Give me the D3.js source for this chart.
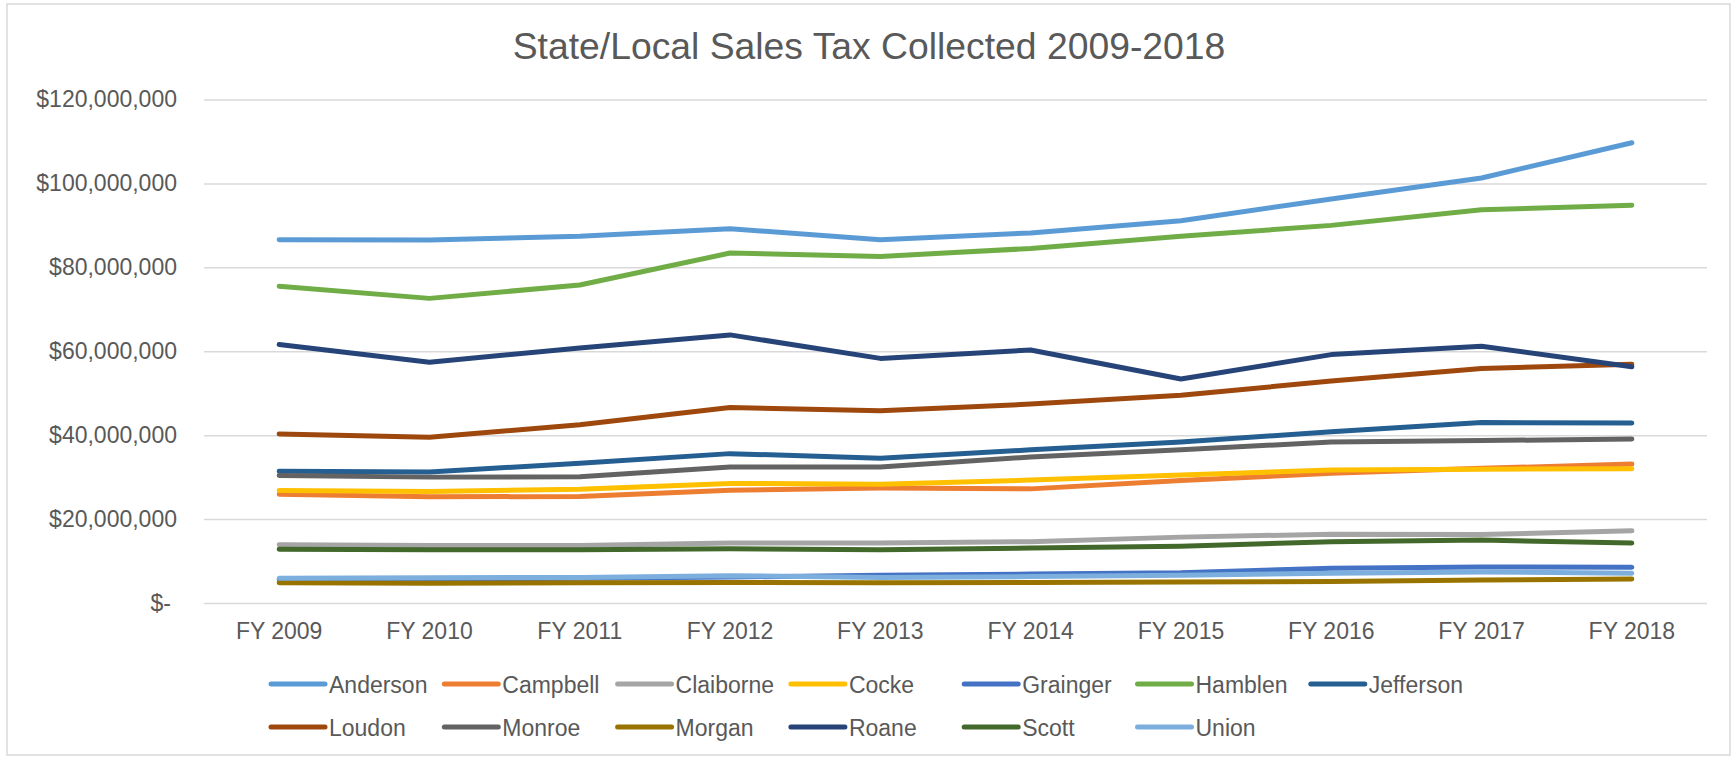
<!DOCTYPE html>
<html>
<head>
<meta charset="utf-8">
<script src="https://cdn.jsdelivr.net/npm/d3@7"></script>
<style>
  body { margin: 0; background: #fff; }
  svg { display: block; font-family: "Liberation Sans", Arial, sans-serif; }
</style>
</head>
<body>
<div id="chart"></div>
<script>
// fiscal years on x axis
var years = ["FY 2009","FY 2010","FY 2011","FY 2012","FY 2013","FY 2014","FY 2015","FY 2016","FY 2017","FY 2018"];
var yTicks = [0, 20000000, 40000000, 60000000, 80000000, 100000000, 120000000];

var counties = ["Anderson","Campbell","Claiborne","Cocke","Grainger","Hamblen","Jefferson",
                "Loudon","Monroe","Morgan","Roane","Scott","Union"];
var colors = ["#5B9BD5","#ED7D31","#A5A5A5","#FFC000","#4472C4","#70AD47","#255E91",
              "#9E480E","#636363","#997300","#264478","#43682B","#7CAFDD"];

// sales tax in millions of dollars
var anderson  = [86.6, 86.5, 87.4, 89.2, 86.6, 88.2, 91.1, 96.3, 101.3, 109.7];
var campbell  = [25.9, 25.3, 25.4, 26.9, 27.4, 27.2, 29.2, 30.9, 32.1, 33.1];
var claiborne = [13.9, 13.7, 13.7, 14.3, 14.3, 14.6, 15.7, 16.4, 16.3, 17.2];
var cocke     = [26.8, 26.6, 27.1, 28.5, 28.3, 29.3, 30.5, 31.7, 31.9, 32.0];
var grainger  = [5.6, 5.7, 5.9, 6.2, 6.6, 6.9, 7.2, 8.3, 8.6, 8.5];
var hamblen   = [75.5, 72.6, 75.8, 83.4, 82.6, 84.5, 87.4, 90.0, 93.7, 94.8];
var jefferson = [31.4, 31.2, 33.3, 35.6, 34.5, 36.5, 38.4, 40.8, 43.0, 42.9];
var loudon    = [40.3, 39.5, 42.5, 46.6, 45.8, 47.4, 49.5, 52.9, 55.9, 56.9];
var monroe    = [30.4, 30.0, 30.1, 32.4, 32.4, 34.8, 36.5, 38.4, 38.7, 39.1];
var morgan    = [4.8, 4.7, 4.8, 4.9, 4.8, 4.9, 5.0, 5.1, 5.5, 5.7];
var roane     = [61.6, 57.4, 60.8, 63.9, 58.3, 60.3, 53.4, 59.2, 61.2, 56.3];
var scott     = [12.8, 12.7, 12.7, 12.9, 12.7, 13.1, 13.5, 14.6, 15.0, 14.3];
var union     = [5.9, 6.0, 6.1, 6.5, 6.1, 6.3, 6.6, 7.1, 7.4, 7.1];

var values = [anderson, campbell, claiborne, cocke, grainger, hamblen, jefferson,
              loudon, monroe, morgan, roane, scott, union];

var series = counties.map(function(c, i){
  return { name: c, color: colors[i],
           points: values[i].map(function(v, j){ return { year: years[j], value: v * 1e6 }; }) };
});

var W = 1732, H = 757;
var textColor = "#595959", gridColor = "#d9d9d9";

var svg = d3.select("#chart").append("svg")
      .attr("width", W).attr("height", H);

svg.append("rect")
   .attr("x", 7).attr("y", 4)
   .attr("width", W - 9).attr("height", H - 6)
   .attr("fill", "#fff")
   .attr("stroke", gridColor).attr("stroke-width", 1.5);

svg.append("text")
   .attr("x", 869).attr("y", 59)
   .attr("text-anchor", "middle")
   .attr("fill", textColor)
   .style("font-size", "37.3px")
   .text("State/Local Sales Tax Collected 2009-2018");

var plotL = 204, plotR = 1707, plotT = 99.5, plotB = 603;

var x = d3.scaleBand().domain(years).range([plotL, plotR]);
var y = d3.scaleLinear().domain([0, 120000000]).range([plotB, plotT]);

var fmt = d3.format("$,");

// y axis + gridlines
var yAxis = svg.append("g")
      .attr("transform", "translate(" + plotL + ",0)")
      .call(d3.axisLeft(y).tickValues(yTicks).tickSize(-(plotR - plotL)).tickPadding(27)
              .tickFormat(function(d){ return d === 0 ? "$-" : fmt(d); }));
yAxis.select(".domain").remove();
yAxis.selectAll(".tick line").attr("stroke", gridColor).attr("stroke-width", 1.5);
yAxis.selectAll(".tick text")
     .attr("fill", textColor)
     .style("font-size", "23px")
     .attr("dx", function(d){ return d === 0 ? -6 : 0; });

// x axis labels
var xAxis = svg.append("g")
      .attr("transform", "translate(0," + plotB + ")")
      .call(d3.axisBottom(x).tickSize(0).tickPadding(20));
xAxis.select(".domain").remove();
xAxis.selectAll(".tick text").attr("fill", textColor).style("font-size", "23px");

var line = d3.line()
      .x(function(d){ return x(d.year) + x.bandwidth() / 2; })
      .y(function(d){ return y(d.value); });

svg.append("g").selectAll("path")
   .data(series)
   .enter().append("path")
   .attr("d", function(d){ return line(d.points); })
   .attr("fill", "none")
   .attr("stroke", function(d){ return d.color; })
   .attr("stroke-width", 5)
   .attr("stroke-linecap", "round")
   .attr("stroke-linejoin", "round");

// legend, 7 per row
var legend = svg.append("g").selectAll("g")
      .data(series)
      .enter().append("g")
      .attr("transform", function(d, i){
        return "translate(" + (271 + (i % 7) * 173.3) + "," + (684 + Math.floor(i / 7) * 43) + ")";
      });

legend.append("line")
   .attr("x1", 0).attr("x2", 54).attr("y1", 0).attr("y2", 0)
   .attr("stroke", function(d){ return d.color; })
   .attr("stroke-width", 5)
   .attr("stroke-linecap", "round");

legend.append("text")
   .attr("x", 58).attr("y", 8.5)
   .attr("fill", textColor)
   .style("font-size", "23px")
   .text(function(d){ return d.name; });
</script>
</body>
</html>
